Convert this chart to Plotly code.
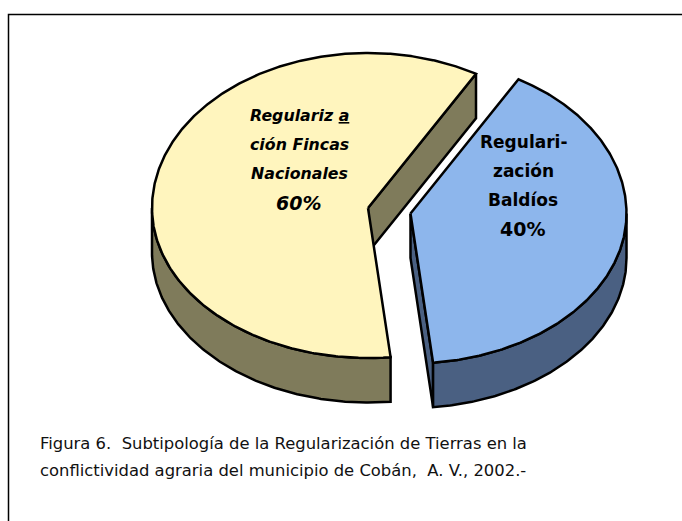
import numpy as np
import plotly.graph_objects as go

# Data
labels = ["Regularización Fincas Nacionales", "Regularización Baldíos"]
values = [60, 40]
caption_lines = [
    "Figura 6.  Subtipología de la Regularización de Tierras en la",
    "conflictividad agraria del municipio de Cobán,  A. V., 2002.-",
]

# Pie projection (page pixels); the far half is slightly deeper than the near half
RX, RY_FAR, RY_NEAR, DEPTH = 216, 155, 150, 44.5
START = 60  # degrees counter-clockwise from +x
CENTERS = [(368, 208), (410.5, 213.5)]
TOP_COL = ["#FFF5BE", "#8DB6EC"]
SIDE_COL = ["#7F7B5B", "#4A6082"]
LINE = dict(color="black", width=2.5)

total = sum(values)
spans = [v / total * 360 for v in values]
a0 = START
wedges = []
for s in spans:
    wedges.append((a0, a0 + s))
    a0 += s


def arc(c, t0, t1, dy=0):
    t = np.radians(np.linspace(t0, t1, max(3, int(abs(t1 - t0) * 2))))
    s = np.sin(t)
    return c[0] + RX * np.cos(t), c[1] - np.where(s >= 0, RY_FAR, RY_NEAR) * s + dy


fig = go.Figure()


def poly(x, y, col):
    fig.add_trace(go.Scatter(x=list(x) + [x[0]], y=list(y) + [y[0]], mode="lines", fill="toself",
                             fillcolor=col, line=LINE, hoverinfo="skip", showlegend=False))


def cut_face(c, t, col):
    ex, ey = arc(c, t, t)
    poly([c[0], ex[0], ex[0], c[0]], [c[1], ey[0], ey[0] + DEPTH, c[1] + DEPTH], col)


def wall(c, lo, hi, col):
    xa, ya = arc(c, lo, hi)
    xb, yb = arc(c, hi, lo, DEPTH)
    poly(np.r_[xa, xb], np.r_[ya, yb], col)


def top(c, t0, t1, col):
    xa, ya = arc(c, t0, t1)
    poly(np.r_[c[0], xa], np.r_[c[1], ya], col)


# Yellow wedge: far cut face, near wall, top
c, (t0, t1) = CENTERS[0], wedges[0]
cut_face(c, t0, SIDE_COL[0])
wall(c, 180, t1, SIDE_COL[0])
top(c, t0, t1, TOP_COL[0])

# Blue wedge: near cut face, near wall, top
c, (t0, t1) = CENTERS[1], wedges[1]
cut_face(c, t0, SIDE_COL[1])
wall(c, t0, 360, SIDE_COL[1])
top(c, t0, t1, TOP_COL[1])

FONT = "'DejaVu Sans', sans-serif"
notes = [
    (299.5, 115, "<b><i>Regulariz <u>a</u></i></b>", 15.8),
    (299.5, 144, "<b><i>ción Fincas</i></b>", 15.8),
    (299.5, 173, "<b><i>Nacionales</i></b>", 15.8),
    (298, 203, f"<b><i>{values[0]}%</i></b>", 19),
    (523, 142, "<b>Regulari-</b>", 17),
    (523, 171, "<b>zación</b>", 17),
    (523, 200, "<b>Baldíos</b>", 17),
    (522, 229, f"<b>{values[1]}%</b>", 19),
]
for x, y, t, size in notes:
    fig.add_annotation(x=x, y=y, text=t, showarrow=False, xanchor="center", yanchor="middle",
                       font=dict(family=FONT, size=size, color="black"), align="center")
for y, t in zip((443, 470), caption_lines):
    fig.add_annotation(x=38, y=y, text=t, showarrow=False, xanchor="left", yanchor="middle",
                       font=dict(family=FONT, size=16.4, color="#111111"), align="left")

fig.update_layout(
    width=682, height=521, margin=dict(l=0, r=0, t=0, b=0),
    paper_bgcolor="white", plot_bgcolor="white", showlegend=False,
    xaxis=dict(range=[0, 682], visible=False, fixedrange=True),
    yaxis=dict(range=[521, 0], visible=False, fixedrange=True),
    shapes=[dict(type="rect", xref="paper", yref="paper", x0=8.5 / 682, x1=1.05,
                 y0=-0.05, y1=1 - 14.5 / 521, line=dict(color="black", width=1.5))],
)
fig.write_html("out.html", config={"displayModeBar": False},
               post_script="document.body.style.margin='0';document.documentElement.style.overflow='hidden';")
